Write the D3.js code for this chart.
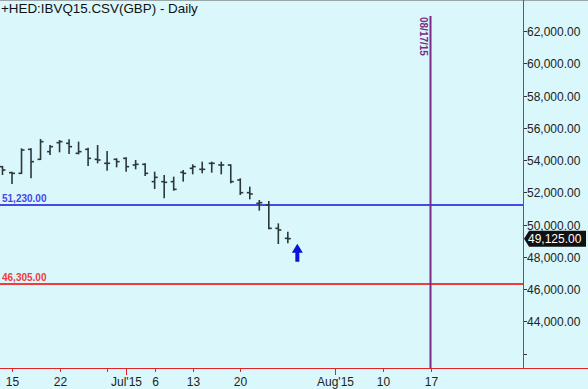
<!DOCTYPE html>
<html>
<head>
<meta charset="utf-8">
<script src="https://cdn.jsdelivr.net/npm/d3@7"></script>
<style>
  html, body { margin: 0; padding: 0; background: #daf7fc; }
  svg { display: block; font-family: "Liberation Sans", Arial, sans-serif; }
</style>
</head>
<body>
<div id="container"></div>
<script>
// daily OHLC, first bar sits one session before the Jun 15 tick
const firstIndex = -1;
const opens  = [53590, 53218, 53176, 54665, 54045, 54520, 55078, 55037, 54417, 54665, 54045, 53797, 54045, 54107, 53693, 53735, 52660, 52660, 52660, 53238, 53487, 53425, 53797, 53693, 53693, 52763, 51977, 51316, 51212, 49765, 49145];
const highs  = [53631, 53280, 54727, 54727, 55306, 54934, 55244, 55285, 55140, 54768, 54934, 54561, 54107, 54169, 54003, 53797, 53280, 53073, 52970, 53383, 53735, 53900, 53900, 53900, 53735, 52868, 52350, 51523, 51460, 50075, 49559];
const lows   = [53073, 52515, 53135, 52868, 54003, 54313, 54479, 54375, 54355, 53631, 53797, 53342, 53549, 53280, 53425, 53011, 52205, 51626, 52101, 52660, 53114, 53176, 53218, 53114, 52556, 51833, 51564, 50861, 49703, 48794, 48835];
const closes = [53383, 53176, 54623, 53900, 55140, 54830, 55140, 54830, 54520, 54107, 54003, 53797, 53900, 53590, 53735, 53176, 52928, 52618, 52184, 53176, 53590, 53425, 53797, 53693, 52660, 51977, 51895, 51357, 49765, 49662, 49125];

// x ticks, in trading sessions from Jun 15
const xTickIdx    = [0, 5, 10, 12, 15, 19, 24, 34, 39, 44];
const xTickLabels = ['15', '22', '', "Jul'15", '6', '13', '20', "Aug'15", '10', '17'];
const xTickMajor  = [false, false, false, true, false, false, false, true, false, false];

const yTicks = [42000, 44000, 46000, 48000, 50000, 52000, 54000, 56000, 58000, 60000, 62000];

const title = '+HED:IBVQ15.CSV(GBP) - Daily';
const lastPrice = 49125;
const levels = [
  { value: 51230, color: '#4848ea' },
  { value: 46305, color: '#f03c3c' }
];
const markerIdx = 44;          // 08/17/15
const markerLabel = '08/17/15';
const arrowIdx = 30;
const arrowValue = 47700;

const W = 588, H = 389;
const plotRight = 523, plotBottom = 368;

const svg = d3.select('#container').append('svg')
  .attr('width', W).attr('height', H);

svg.append('rect').attr('width', W).attr('height', H).attr('fill', '#daf7fc');
svg.append('line').attr('x1', 0).attr('x2', W).attr('y1', 0.5).attr('y2', 0.5)
  .attr('stroke', '#9aa6a8');

const x = d3.scaleLinear().domain([0, 44]).range([12, 430.5]);
const y = d3.scaleLinear().domain([52000, 44000]).range([192.3, 321.3]);

const plot = svg.append('g');

// support / resistance lines
levels.forEach(l => {
  const ly = Math.round(y(l.value));
  plot.append('line')
    .attr('x1', 0).attr('x2', plotRight)
    .attr('y1', ly).attr('y2', ly)
    .attr('stroke', l.color).attr('stroke-width', 2)
    .attr('shape-rendering', 'crispEdges');
  plot.append('text')
    .attr('x', 2).attr('y', ly - 3)
    .attr('fill', l.color)
    .attr('font-size', 10).attr('font-weight', 'bold')
    .text(d3.format(',.2f')(l.value));
});

// date marker
plot.append('line')
  .attr('x1', x(markerIdx)).attr('x2', x(markerIdx))
  .attr('y1', 16).attr('y2', plotBottom)
  .attr('stroke', '#7b2a86').attr('stroke-width', 2);
plot.append('text')
  .attr('transform', `translate(${x(markerIdx) - 11},17) rotate(90)`)
  .attr('fill', '#7b2a86').attr('font-size', 10).attr('font-weight', 'bold')
  .text(markerLabel);

// OHLC bars
const bars = opens.map((o, i) => ({ i: firstIndex + i, o, h: highs[i], l: lows[i], c: closes[i] }));
const barG = plot.selectAll('.bar').data(bars).enter().append('g')
  .attr('class', 'bar')
  .attr('stroke', '#2b3838').attr('stroke-width', 1.6);
barG.append('line')
  .attr('x1', d => x(d.i)).attr('x2', d => x(d.i))
  .attr('y1', d => y(d.h)).attr('y2', d => y(d.l));
barG.append('line')
  .attr('x1', d => x(d.i) - 3).attr('x2', d => x(d.i))
  .attr('y1', d => y(d.o)).attr('y2', d => y(d.o));
barG.append('line')
  .attr('x1', d => x(d.i)).attr('x2', d => x(d.i) + 3)
  .attr('y1', d => y(d.c)).attr('y2', d => y(d.c));

// blue up arrow under the last bar
const ax = x(arrowIdx), ay = y(arrowValue);
plot.append('path')
  .attr('d', `M${ax},${ay - 18} L${ax + 5.5},${ay - 9} L${ax + 2},${ay - 9} L${ax + 2},${ay} L${ax - 2},${ay} L${ax - 2},${ay - 9} L${ax - 5.5},${ay - 9} Z`)
  .attr('fill', '#0a14d8');

// axes frame
svg.append('line').attr('x1', plotRight + 0.5).attr('x2', plotRight + 0.5)
  .attr('y1', 0).attr('y2', plotBottom).attr('stroke', '#e0242a');
svg.append('line').attr('x1', 0).attr('x2', W)
  .attr('y1', plotBottom + 0.5).attr('y2', plotBottom + 0.5).attr('stroke', '#e0242a');

// right price axis
const yAxis = svg.append('g');
yTicks.forEach(v => {
  const ty = Math.round(y(v)) + 0.5;
  yAxis.append('line').attr('x1', plotRight + 1).attr('x2', plotRight + 4)
    .attr('y1', ty).attr('y2', ty).attr('stroke', '#333');
  if (v !== 42000) {
    yAxis.append('text').attr('x', plotRight + 4).attr('y', ty + 4.5)
      .attr('font-size', 12).attr('fill', '#222')
      .text(d3.format(',.2f')(v));
  }
});

// last price tag
const py = y(lastPrice);
svg.append('path')
  .attr('d', `M${plotRight + 1},${py} L${plotRight + 6},${py - 8} L${W - 2},${py - 8} L${W - 2},${py + 8} L${plotRight + 6},${py + 8} Z`)
  .attr('fill', '#111');
svg.append('text').attr('x', plotRight + 5).attr('y', py + 4.5)
  .attr('font-size', 12).attr('fill', '#fff')
  .text(d3.format(',.2f')(lastPrice));

// bottom date axis
const xAxis = svg.append('g');
xTickIdx.forEach((idx, k) => {
  const tx = Math.round(x(idx)) + 0.5;
  xAxis.append('line').attr('x1', tx).attr('x2', tx)
    .attr('y1', plotBottom + 1).attr('y2', plotBottom + (xTickMajor[k] ? 7 : 4))
    .attr('stroke', '#e0242a');
  xAxis.append('text').attr('x', tx).attr('y', plotBottom + 18)
    .attr('text-anchor', 'middle').attr('font-size', 12).attr('fill', '#222')
    .text(xTickLabels[k]);
});

// title
svg.append('text').attr('x', 1).attr('y', 13)
  .attr('font-size', 13.4).attr('fill', '#111')
  .text(title);
</script>
</body>
</html>
